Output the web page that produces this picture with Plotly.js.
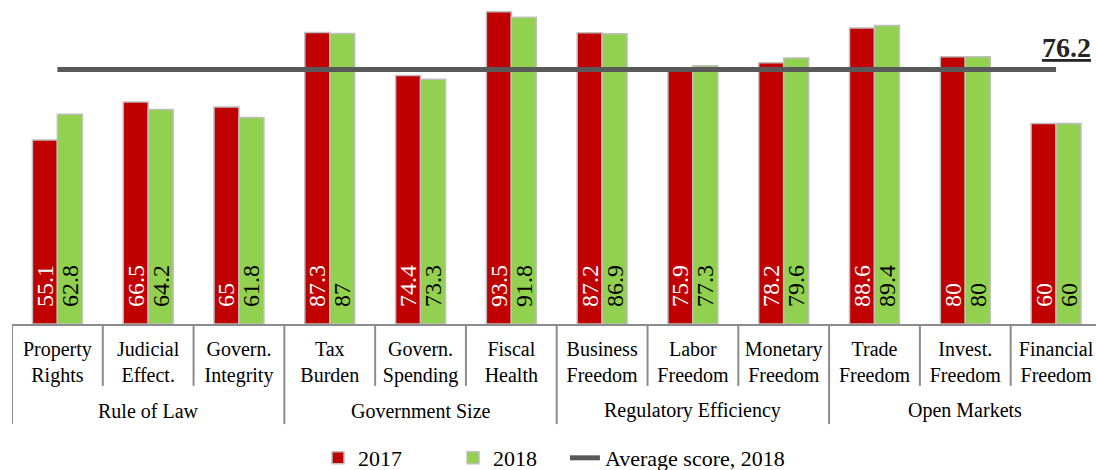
<!DOCTYPE html>
<html>
<head>
<meta charset="utf-8">
<script src="https://cdn.plot.ly/plotly-3.0.1.min.js"></script>
<style>html,body{margin:0;padding:0;background:#fff;}#chart{width:1096px;height:470px;}</style>
</head>
<body>
<div id="chart"></div>
<script>
const categories = ["Property<br>Rights","Judicial<br>Effect.","Govern.<br>Integrity","Tax<br>Burden","Govern.<br>Spending","Fiscal<br>Health","Business<br>Freedom","Labor<br>Freedom","Monetary<br>Freedom","Trade<br>Freedom","Invest.<br>Freedom","Financial<br>Freedom"];
const groups = ["Rule of Law","Government Size","Regulatory Efficiency","Open Markets"];
const groupSize = 3;
const values2017 = [55.1,66.5,65,87.3,74.4,93.5,87.2,75.9,78.2,88.6,80,60];
const values2018 = [62.8,64.2,61.8,87,73.3,91.8,86.9,77.3,79.6,89.4,80,60];
const avgScore2018 = 76.2;

const idx = categories.map((_, i) => i);
const serif = "Liberation Serif";

const barCommon = {
  type: "bar",
  x: idx,
  textposition: "inside",
  insidetextanchor: "start",
  textangle: -90,
  constraintext: "none",
  texttemplate: "\u2002\u200a%{y}",
  hoverinfo: "skip"
};

const redFont = {family: serif, size: 24, color: "#FFFFFF"};
const greenFont = {family: serif, size: 24, color: "#000000"};

const traces = [
  Object.assign({}, barCommon, {
    name: "2017", y: values2017, legend: "legend",
    marker: {color: "#C00000", line: {color: "#BFBFBF", width: 1.5}},
    textfont: redFont, insidetextfont: redFont
  }),
  Object.assign({}, barCommon, {
    name: "2018", y: values2018, legend: "legend2",
    marker: {color: "#92D050", line: {color: "#BFBFBF", width: 1.5}},
    textfont: greenFont, insidetextfont: greenFont
  }),
  {
    type: "scatter", mode: "lines", name: "Average score, 2018", legend: "legend3",
    x: [0, categories.length - 1], y: [avgScore2018, avgScore2018],
    line: {color: "#595959", width: 5},
    hoverinfo: "skip"
  }
];

const shapes = [];
for (let k = 0; k <= categories.length; k++) {
  const isGroup = k % groupSize === 0;
  shapes.push({
    type: "line", xref: "x", yref: "paper",
    x0: k - 0.5, x1: k - 0.5, y0: 0, y1: isGroup ? -0.309 : -0.191,
    line: {color: "#8C8C8C", width: 2}
  });
}

const annotations = groups.map((g, gi) => ({
  text: g, xref: "x", yref: "paper",
  x: gi * groupSize + (groupSize - 1) / 2, y: -0.2685,
  yanchor: "middle", xanchor: "center", showarrow: false,
  font: {family: serif, size: 20, color: "#000"}
}));
annotations.push({
  text: "<b><u>" + avgScore2018 + "</u></b>", xref: "x", yref: "y",
  x: 11.11, y: avgScore2018, yshift: 22, xanchor: "center", yanchor: "middle",
  showarrow: false, font: {family: serif, size: 28, color: "#262626"}
});

function legendAt(x) {
  return {orientation: "h", xref: "paper", x: x, xanchor: "left",
          yref: "container", y: 0.0255, yanchor: "middle",
          font: {family: serif, size: 22, color: "#000"}};
}

const layout = {
  width: 1096, height: 470,
  margin: {l: 12, r: 0, t: 0, b: 146, autoexpand: false},
  paper_bgcolor: "#fff", plot_bgcolor: "#fff",
  barmode: "group", bargap: 0.45, bargroupgap: 0,
  showlegend: true,
  legend: legendAt(0.2823),
  legend2: legendAt(0.4068),
  legend3: legendAt(0.5101),
  xaxis: {
    range: [-0.5, 11.44], tickmode: "array", tickvals: idx, ticktext: categories,
    ticks: "outside", ticklen: 6, tickcolor: "rgba(0,0,0,0)", automargin: false,
    showline: true, linecolor: "#8C8C8C", linewidth: 2, showgrid: false, zeroline: false,
    tickfont: {family: serif, size: 20, color: "#000"}, fixedrange: true
  },
  yaxis: {range: [0, 97], visible: false, showgrid: false, zeroline: false, fixedrange: true, automargin: false},
  shapes: shapes, annotations: annotations,
  font: {family: serif}
};

Plotly.newPlot("chart", traces, layout, {displayModeBar: false, staticPlot: true});
</script>
</body>
</html>
